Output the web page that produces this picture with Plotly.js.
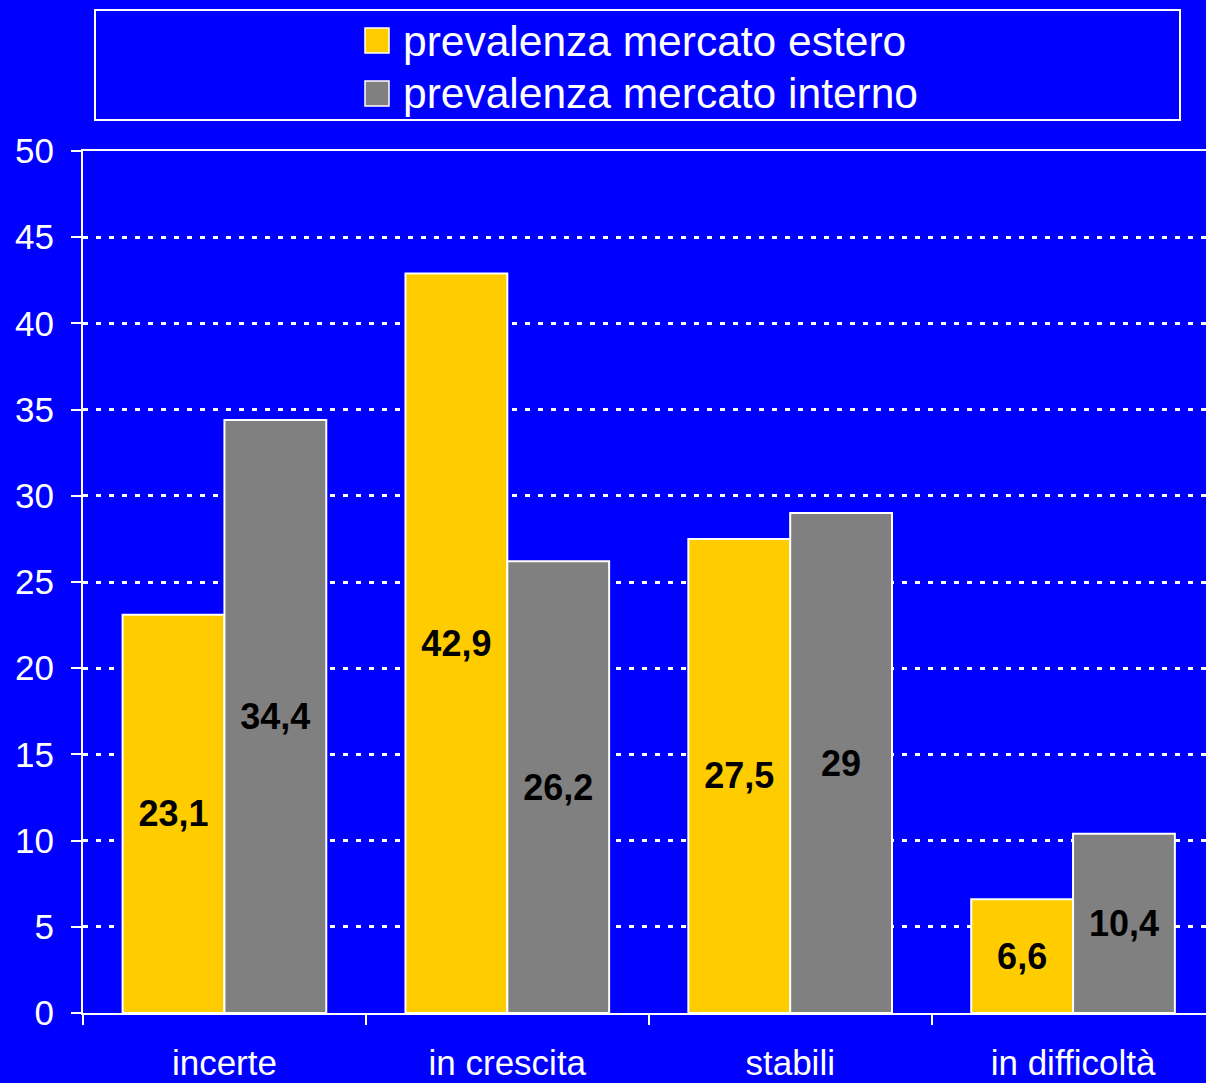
<!DOCTYPE html>
<html>
<head>
<meta charset="utf-8">
<script src="https://cdn.plot.ly/plotly-3.0.1.min.js"></script>
<style>html,body{margin:0;padding:0;background:#0000FF;}</style>
</head>
<body>
<div id="chart" style="width:1206px;height:1083px;"></div>
<script>
var categories = ["incerte", "in crescita", "stabili", "in difficoltà"];
var seriesNames = ["prevalenza mercato estero", "prevalenza mercato interno"];
var seriesColors = ["#FFCC00", "#808080"];
var estero = [23.1, 42.9, 27.5, 6.6];
var interno = [34.4, 26.2, 29, 10.4];
var yTicks = [0, 5, 10, 15, 20, 25, 30, 35, 40, 45, 50];

function fmt(v) { return String(v).replace('.', ','); }

var FONT = "Liberation Sans, Arial, sans-serif";
var labelFont = {family: FONT, size: 36, color: "#000000", weight: "bold"};

var series = [estero, interno];
var traces = series.map(function (vals, i) {
  return {
    type: "bar", name: seriesNames[i], x: categories, y: vals,
    text: vals.map(fmt), textposition: "inside", insidetextanchor: "middle",
    textangle: 0, textfont: labelFont, constraintext: "none",
    marker: {color: seriesColors[i], line: {color: "#FFFFFF", width: 2}},
    hoverinfo: "none", showlegend: false
  };
});

// legend drawn as shapes + annotations (pixel positions converted to paper coords)
var L = 83, T = 151, W = 1123, H = 862;
function px(x) { return (x - L) / W; }
function py(y) { return (T + H - y) / H; }

var legendRows = [40, 93];
var shapes = [
  {type: "rect", xref: "paper", yref: "paper",
   x0: px(95), x1: px(1180), y0: py(120), y1: py(10),
   line: {color: "#FFFFFF", width: 2}, fillcolor: "rgba(0,0,0,0)", layer: "below"}
];
var annotations = [];
seriesNames.forEach(function (name, i) {
  var cy = legendRows[i];
  shapes.push({type: "rect", xref: "paper", yref: "paper",
    x0: px(365), x1: px(389), y0: py(cy + 13), y1: py(cy - 12),
    line: {color: "#FFFFFF", width: 1.5}, fillcolor: seriesColors[i], layer: "above"});
  annotations.push({xref: "paper", yref: "paper", x: px(401), y: py(cy + 1),
    xanchor: "left", yanchor: "middle", showarrow: false, text: name,
    font: {family: FONT, size: 42.5, color: "#FFFFFF"}});
});

var layout = {
  width: 1206, height: 1083,
  margin: {l: 83, r: 0, t: 151, b: 70},
  paper_bgcolor: "#0000FF",
  plot_bgcolor: "#0000FF",
  font: {family: FONT, color: "#FFFFFF", size: 34},
  barmode: "group",
  bargap: 0.28,
  bargroupgap: 0,
  showlegend: false,
  xaxis: {
    type: "category",
    range: [-0.5, 3.47],
    showline: true, linecolor: "#FFFFFF", linewidth: 2,
    mirror: true,
    ticks: "outside", tickson: "boundaries", ticklen: 10, tickwidth: 2, tickcolor: "#FFFFFF",
    showgrid: false,
    ticklabelstandoff: 18,
    tickfont: {family: FONT, size: 35, color: "#FFFFFF"},
    fixedrange: true
  },
  yaxis: {
    range: [0, 50],
    tickvals: yTicks,
    ticktext: yTicks.map(String),
    showline: true, linecolor: "#FFFFFF", linewidth: 2,
    ticks: "outside", ticklen: 10, tickwidth: 2, tickcolor: "#FFFFFF",
    showgrid: true, gridcolor: "#FFFFFF", gridwidth: 3, griddash: "5px,8px",
    zeroline: false,
    ticklabelstandoff: 10,
    tickfont: {family: FONT, size: 35, color: "#FFFFFF"},
    fixedrange: true
  },
  shapes: shapes,
  annotations: annotations
};

Plotly.newPlot("chart", traces, layout, {displayModeBar: false, staticPlot: true});
</script>
</body>
</html>
